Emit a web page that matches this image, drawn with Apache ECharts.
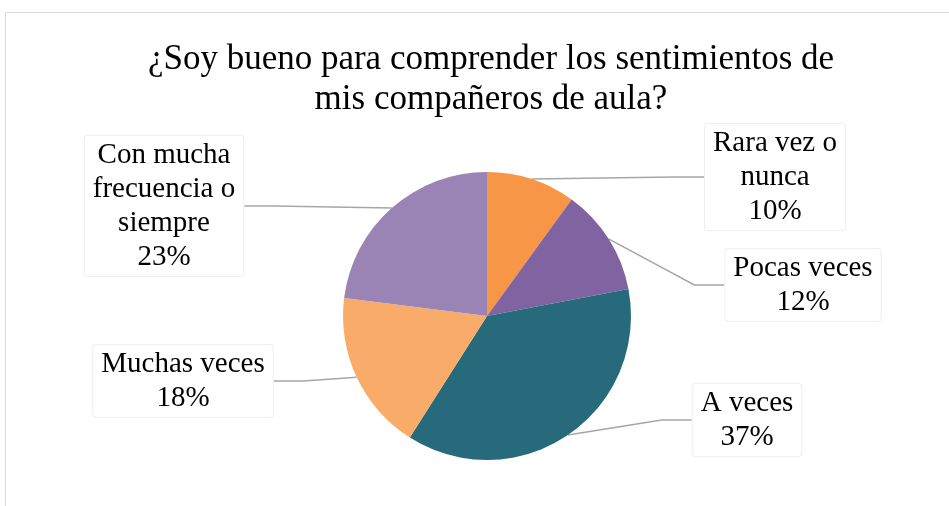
<!DOCTYPE html>
<html>
  <head>
    <meta charset="utf-8">
    <title>Comprender sentimientos</title>
    <script src="https://cdn.jsdelivr.net/npm/echarts@6/dist/echarts.min.js"></script>
    <style>
      html, body { margin: 0; padding: 0; background: #fff; }
      #chart { width: 949px; height: 506px; }
    </style>
  </head>
  <body>
    <div id="chart"></div>
    <script type="text/javascript">
      // data
      var categories = ["Rara vez o nunca", "Pocas veces", "A veces", "Muchas veces", "Con mucha frecuencia o siempre"];
      var labelLines = ["Rara vez o\nnunca", "Pocas veces", "A veces", "Muchas veces", "Con mucha\nfrecuencia o\nsiempre"];
      var values = [10, 12, 37, 18, 23];
      var colors = ["#F79646", "#8064A2", "#276A7B", "#F9AC6A", "#9A84B6"];

      // where each label box sits (center)
      var labelPos = [[775, 177], [803, 285], [747, 420], [183, 381], [164, 206]];

      var myChart = echarts.init(document.getElementById("chart"));

      var pieData = [];
      for (var i = 0; i < values.length; i++) {
        pieData.push({
          name: categories[i],
          value: values[i],
          itemStyle: { color: colors[i] },
          label: { formatter: labelLines[i] + "\n{d}%" }
        });
      }

      var option = {
        backgroundColor: "#fff",
        animation: false,
        title: {
          text: "¿Soy bueno para comprender los sentimientos de\nmis compañeros de aula?",
          left: 486,
          textAlign: "center",
          top: 35,
          textStyle: {
            fontFamily: "Liberation Serif",
            fontWeight: "normal",
            fontSize: 35,
            lineHeight: 40,
            color: "#000"
          }
        },
        graphic: [{
          type: "rect",
          shape: { x: 5.5, y: 12.5, width: 1000, height: 600 },
          style: { fill: "none", stroke: "#d9d9d9", lineWidth: 1 },
          silent: true
        }],
        series: [{
          type: "pie",
          center: [487, 316],
          radius: 144,
          startAngle: 90,
          clockwise: true,
          data: pieData,
          itemStyle: { borderWidth: 0 },
          label: {
            show: true,
            position: "outside",
            fontFamily: "Liberation Serif",
            fontSize: 29,
            lineHeight: 34,
            color: "#000",
            align: "center",
            backgroundColor: "#fff",
            borderColor: "#eeeeee",
            borderWidth: 1,
            borderRadius: 3,
            padding: [2, 8, 2, 8]
          },
          labelLine: {
            show: true,
            lineStyle: { color: "#a6a6a6", width: 1.5 }
          },
          labelLayout: function (params) {
            var p = labelPos[params.dataIndex];
            return { x: p[0], y: p[1], align: "center", verticalAlign: "middle" };
          }
        }]
      };

      myChart.setOption(option);
    </script>
  </body>
</html>
